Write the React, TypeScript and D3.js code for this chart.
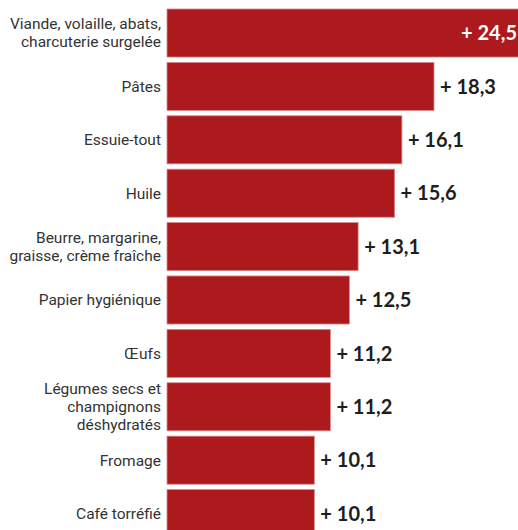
import React from 'react';
import * as d3 from 'd3';

const categories = [
  ['Viande, volaille, abats,', 'charcuterie surgelée'],
  ['Pâtes'],
  ['Essuie-tout'],
  ['Huile'],
  ['Beurre, margarine,', 'graisse, crème fraîche'],
  ['Papier hygiénique'],
  ['Œufs'],
  ['Légumes secs et', 'champignons', 'déshydratés'],
  ['Fromage'],
  ['Café torréfié'],
];
const values = [24.5, 18.3, 16.1, 15.6, 13.1, 12.5, 11.2, 11.2, 10.1, 10.1];
const valueLabels = ['+ 24,5', '+ 18,3', '+ 16,1', '+ 15,6', '+ 13,1', '+ 12,5', '+ 11,2', '+ 11,2', '+ 10,1', '+ 10,1'];

const width = 518;
const height = 530;
const barLeft = 167;
const barColor = '#ad1a1e';

export default function App() {
  const ids = categories.map((_, i) => String(i));

  const x = d3.scaleLinear()
    .domain([0, 18.3])
    .range([barLeft, 434]);

  const y = d3.scaleBand<string>()
    .domain(ids)
    .range([9, 537.6])
    .paddingInner(0.1)
    .paddingOuter(0);

  const lineH = 18;

  return (
    <div style={{ position: 'fixed', left: 0, top: 0, width, height, background: '#fff' }}>
      <svg width={width} height={height} style={{ display: 'block' }}>
        {ids.map((id, i) => {
          const y0 = y(id)!;
          const cy = y0 + y.bandwidth() / 2;
          const lines = categories[i];
          const end = x(values[i]);
          // the longest bar runs off the picture, so its label sits inside it
          const inside = end > width - 20;
          return (
            <g key={id}>
              <rect
                x={x(0)}
                y={y0}
                width={end - x(0)}
                height={y.bandwidth()}
                fill={barColor}
                stroke="#d98a8a"
                strokeWidth={0.8}
              />
              <text
                textAnchor="end"
                fontFamily="Roboto, 'Noto Sans', sans-serif"
                fontSize={15.5}
                fill="#333"
              >
                {lines.map((l, j) => (
                  <tspan
                    key={j}
                    x={161}
                    y={cy + (j - (lines.length - 1) / 2) * lineH}
                    dy="0.35em"
                  >
                    {l}
                  </tspan>
                ))}
              </text>
              <text
                x={inside ? width - 1 : end + 6}
                y={cy}
                dy="0.36em"
                textAnchor={inside ? 'end' : 'start'}
                fontFamily="Lato, 'Open Sans', sans-serif"
                fontWeight={700}
                fontSize={20}
                fill={inside ? '#fff' : '#1e1e1e'}
              >
                {valueLabels[i]}
              </text>
            </g>
          );
        })}
      </svg>
    </div>
  );
}
